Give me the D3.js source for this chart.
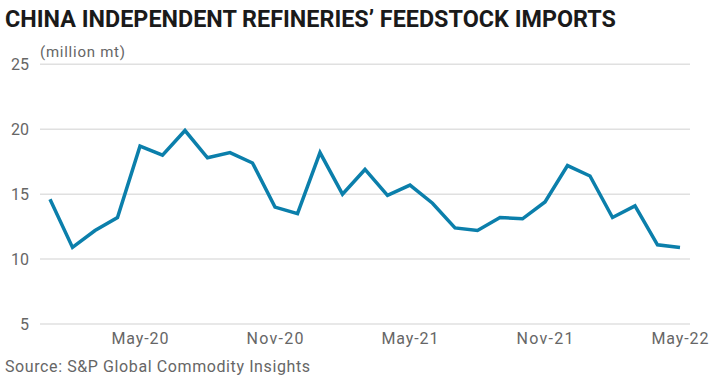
<!DOCTYPE html>
<html>
<head>
<meta charset="utf-8">
<script src="https://cdn.jsdelivr.net/npm/d3@7"></script>
<style>
  body { margin: 0; background: #fff; }
  text { font-family: Roboto, "Liberation Sans", sans-serif; }
</style>
</head>
<body>
<div id="chart"></div>
<script>
// monthly, Jan-20 .. May-22
var months = ["Jan-20","Feb-20","Mar-20","Apr-20","May-20","Jun-20","Jul-20","Aug-20","Sep-20","Oct-20","Nov-20","Dec-20",
  "Jan-21","Feb-21","Mar-21","Apr-21","May-21","Jun-21","Jul-21","Aug-21","Sep-21","Oct-21","Nov-21","Dec-21",
  "Jan-22","Feb-22","Mar-22","Apr-22","May-22"]
var imports = [14.6, 10.9, 12.2, 13.2, 18.7, 18.0, 19.9, 17.8, 18.2, 17.4, 14.0, 13.5,
  18.2, 15.0, 16.9, 14.9, 15.7, 14.3, 12.4, 12.2, 13.2, 13.1, 14.4, 17.2,
  16.4, 13.2, 14.1, 11.1, 10.9]
var xTicks = ["May-20","Nov-20","May-21","Nov-21","May-22"]
var yTicks = [5, 10, 15, 20, 25]

var width = 715, height = 380

var svg = d3.select("#chart").append("svg")
  .attr("width", width)
  .attr("height", height)

var x = d3.scalePoint()
  .domain(months)
  .range([50, 680])

var y = d3.scaleLinear()
  .domain([5, 25])
  .range([324, 64.3])

svg.append("text")
  .text("CHINA INDEPENDENT REFINERIES\u2019 FEEDSTOCK IMPORTS")
  .attr("x", 5)
  .attr("y", 27)
  .attr("font-size", 23)
  .attr("font-weight", "bold")
  .attr("fill", "#1a1a1a")
  .attr("textLength", 611)
  .attr("lengthAdjust", "spacingAndGlyphs")

svg.append("text")
  .text("(million mt)")
  .attr("x", 40)
  .attr("y", 57)
  .attr("font-size", 15)
  .attr("fill", "#666")
  .attr("textLength", 85)

// gridlines
svg.selectAll(".grid")
  .data(yTicks)
  .enter()
  .append("line")
  .attr("x1", 40)
  .attr("x2", 690)
  .attr("y1", d => y(d))
  .attr("y2", d => y(d))
  .attr("stroke", "#e0e0e0")
  .attr("stroke-width", 1.5)

svg.selectAll(".ylab")
  .data(yTicks)
  .enter()
  .append("text")
  .text(d => d)
  .attr("x", 29)
  .attr("y", d => y(d) + 6)
  .attr("font-size", 16)
  .attr("fill", "#666")
  .attr("text-anchor", "end")

svg.selectAll(".xlab")
  .data(xTicks)
  .enter()
  .append("text")
  .text(d => d)
  .attr("x", d => x(d))
  .attr("y", 344)
  .attr("font-size", 16)
  .attr("fill", "#666")
  .attr("text-anchor", "middle")
  .attr("textLength", 57)

var line = d3.line()
  .x((d, i) => x(months[i]))
  .y(d => y(d))

svg.append("path")
  .datum(imports)
  .attr("d", line)
  .attr("fill", "none")
  .attr("stroke", "#0b7fab")
  .attr("stroke-width", 3.5)
  .attr("stroke-linejoin", "miter")

svg.append("text")
  .text("Source: S&P Global Commodity Insights")
  .attr("x", 5)
  .attr("y", 372)
  .attr("font-size", 16)
  .attr("fill", "#666")
  .attr("textLength", 305)
</script>
</body>
</html>
